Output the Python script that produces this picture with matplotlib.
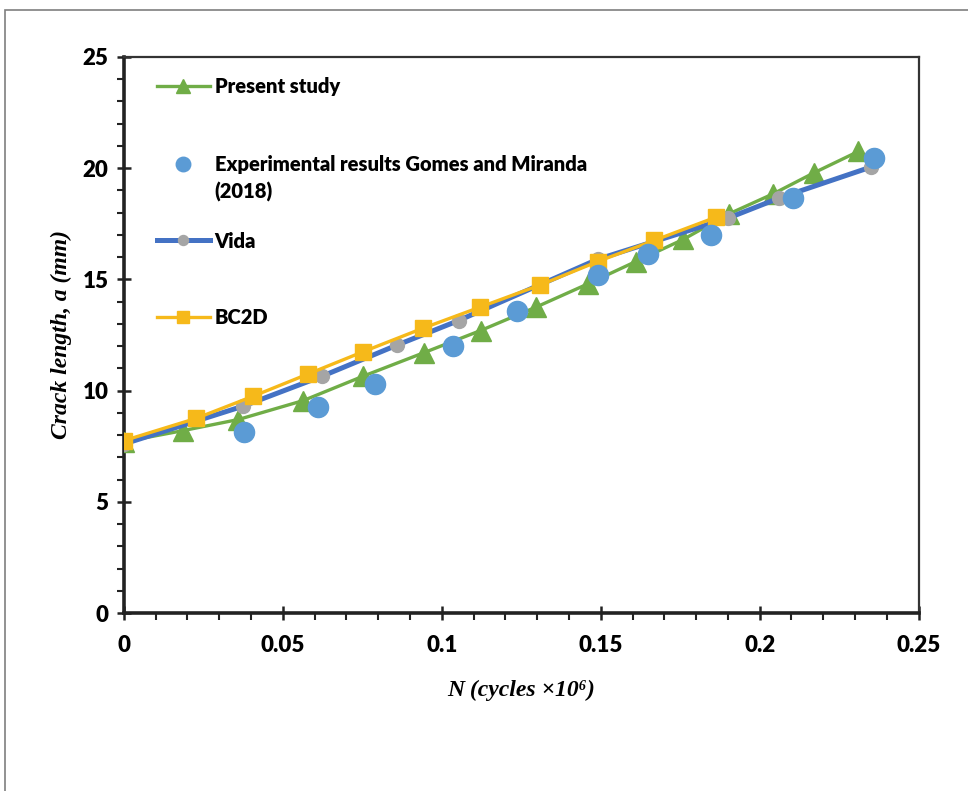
import matplotlib
matplotlib.use("Agg")
import matplotlib.pyplot as plt
from matplotlib.legend import Legend
from matplotlib.lines import Line2D
from matplotlib.patches import Rectangle
from matplotlib.ticker import MultipleLocator

# data
present_x = [0, 0.0186, 0.036, 0.0564, 0.0753, 0.0943, 0.1122, 0.1296, 0.146, 0.161, 0.176, 0.1904, 0.2043, 0.2172, 0.231]
present_y = [7.7, 8.2, 8.7, 9.55, 10.65, 11.7, 12.7, 13.75, 14.8, 15.8, 16.8, 17.95, 18.85, 19.8, 20.75]

exp_x = [0.0378, 0.0612, 0.0791, 0.1034, 0.1236, 0.149, 0.1649, 0.1847, 0.2106, 0.236]
exp_y = [8.15, 9.25, 10.3, 12.0, 13.6, 15.2, 16.15, 17.0, 18.65, 20.45]

vida_x = [0, 0.0375, 0.0624, 0.086, 0.1053, 0.149, 0.190, 0.206, 0.235]
vida_y = [7.6, 9.3, 10.65, 12.05, 13.15, 15.9, 17.75, 18.65, 20.05]

bc2d_x = [0, 0.0227, 0.0407, 0.058, 0.0753, 0.094, 0.112, 0.131, 0.149, 0.1668, 0.1863]
bc2d_y = [7.75, 8.75, 9.75, 10.75, 11.75, 12.8, 13.75, 14.75, 15.8, 16.75, 17.8]

labels = ["Present study", "Experimental results Gomes and Miranda", "(2018)", "Vida", "BC2D"]
x_ticks = [0, 0.05, 0.1, 0.15, 0.2, 0.25]
x_tick_labels = ["0", "0.05", "0.1", "0.15", "0.2", "0.25"]
y_ticks = [0, 5, 10, 15, 20, 25]

green = "#70AD47"
blue_pt = "#5B9BD5"
blue_line = "#4472C4"
grey = "#A5A5A5"
gold = "#F6B91A"

fig = plt.figure(figsize=(9.68, 7.91), dpi=100)
ax = fig.add_axes([0.128, 0.225, 0.821, 0.703])

h_present, = ax.plot(present_x, present_y, color=green, lw=2.4, marker="^",
                     ms=14, mec=green, mfc=green, zorder=3)
h_vida, = ax.plot(vida_x, vida_y, color=blue_line, lw=3.6, marker="o",
                  ms=10, mec=grey, mfc=grey, zorder=4)
h_bc2d, = ax.plot(bc2d_x, bc2d_y, color=gold, lw=2.4, marker="s",
                  ms=11.5, mec=gold, mfc=gold, zorder=5)
h_exp, = ax.plot(exp_x, exp_y, ls="none", marker="o", ms=14.5,
                 mec=blue_pt, mfc=blue_pt, zorder=6)
h_blank = Line2D([], [], ls="none")

ax.set_xlim(0, 0.25)
ax.set_ylim(0, 25)
ax.set_xticks(x_ticks)
ax.set_xticklabels(x_tick_labels)
ax.set_yticks(y_ticks)
ax.xaxis.set_minor_locator(MultipleLocator(0.01))
ax.yaxis.set_minor_locator(MultipleLocator(1))

for lab in ax.get_xticklabels() + ax.get_yticklabels():
    lab.set_fontfamily("Lato")
    lab.set_fontweight("heavy")
    lab.set_fontsize(16)

ax.tick_params(which="major", direction="inout", length=10, width=1.8, color="#222222")
ax.tick_params(which="minor", direction="out", length=5, width=1.5, color="#222222")
ax.tick_params(axis="x", which="major", pad=11)
ax.tick_params(axis="y", which="major", pad=6)

for side in ["left", "bottom"]:
    ax.spines[side].set_linewidth(2.6)
    ax.spines[side].set_color("#222222")
for side in ["top", "right"]:
    ax.spines[side].set_linewidth(1.6)
    ax.spines[side].set_color("#333333")

serif = ["Liberation Serif", "DejaVu Serif"]
ax.set_xlabel("N (cycles \u00d710\u2076)", family=serif, style="italic",
              weight="bold", fontsize=17, labelpad=17)
ax.set_ylabel("Crack length, a (mm)", family=serif, style="italic",
              weight="bold", fontsize=17, labelpad=8)

# legend: one entry per block, placed like the Excel layout
legend_rows = [(h_present, labels[0], 0.946),
               (h_exp, labels[1], 0.806),
               (h_blank, labels[2], 0.758),
               (h_vida, labels[3], 0.669),
               (h_bc2d, labels[4], 0.531)]
for handle, text, ypos in legend_rows:
    leg = Legend(ax, [handle], [text], loc="center left",
                 bbox_to_anchor=(0.042, ypos), frameon=False,
                 borderpad=0, borderaxespad=0, handlelength=2.6,
                 handletextpad=0.25, markerscale=0.72, numpoints=1,
                 prop={"family": "Lato", "weight": "heavy", "size": 14.5})
    ax.add_artist(leg)

# outer frame of the figure
fig.add_artist(Rectangle((0.005, -0.05), 1.2, 0.05 + 1 - 10 / 791,
                         transform=fig.transFigure, fill=False,
                         edgecolor="#7f7f7f", lw=1.2))

fig.savefig("out.png", dpi=100)
